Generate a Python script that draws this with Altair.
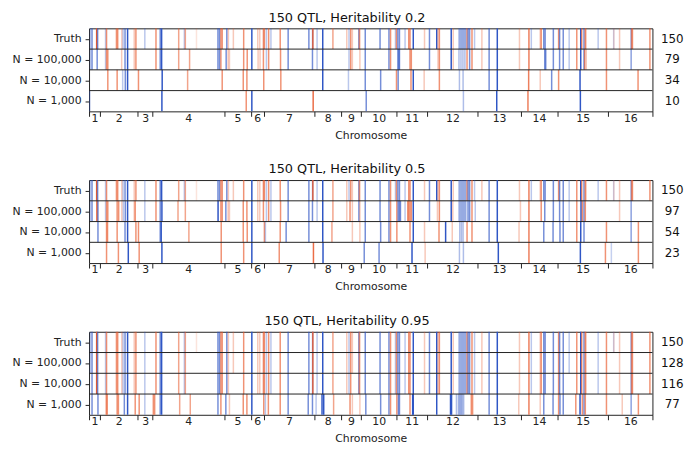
import altair as alt
import pandas as pd

FONT = "DejaVu Sans"
RED = "#e8592c"
BLUE = "#2d54c4"
W, H = 570, 84

# S. cerevisiae chromosome lengths (kb)
chrom_len_kb = [230, 813, 317, 1532, 577, 270, 1091, 563, 440, 746, 667, 1078, 924, 784, 1091, 948]

titles = ["150 QTL, Heritability 0.2", "150 QTL, Heritability 0.5", "150 QTL, Heritability 0.95"]
row_names = ["Truth", "N = 100,000", "N = 10,000", "N = 1,000"]
counts = [[150, 79, 34, 10], [150, 97, 54, 23], [150, 128, 116, 77]]

# true QTL: genome position (kb) and signed effect (+ red, - blue; magnitude -> intensity)
truth_pos = [30, 64, 163, 184, 354, 375, 587, 614, 703, 729, 771, 826, 968, 1004, 1195, 1434, 1525, 1555,
             1921, 2042, 2063, 2302, 2762, 2796, 2825, 2853, 2952, 2986, 3092, 3313, 3488, 3615, 3658,
             3736, 3757, 3800, 3848, 3897, 4096, 4266, 4710, 4790, 4795, 4886, 5007, 5225, 5522, 5570,
             5606, 5642, 5782, 5790, 5803, 5918, 6235, 6426, 6460, 6566, 6587, 6617, 6651, 6771, 6850,
             6877, 6947, 7188, 7294, 7449, 7477, 7506, 7760, 7803, 7926, 7947, 7969, 7990, 8011, 8032,
             8053, 8074, 8099, 8122, 8154, 8205, 8260, 8417, 8572, 8747, 9222, 9425, 9476, 9667, 9688,
             9743, 9772, 9948, 10061, 10082, 10160, 10287, 10450, 10535, 10556, 10605, 10633, 10648,
             10908, 11086, 11240, 11245, 11367, 11615, 11625, 11643, 12017]
truth_eff = [-0.3, -0.6, 0.9, -0.6, -0.3, 0.6, 0.6, 0.6, 0.3, -0.3, -0.6, -0.9, 0.3, 0.6, -0.3, 0.6, -0.6, -0.9,
             0.5, -0.3, 0.5, 0.15, -0.6, -0.6, 0.6, 0.6, -0.6, 0.3, 0.3, 0.6, -0.9, 0.3, 0.3,
             0.6, 0.6, -0.3, 0.6, -0.3, 0.6, -0.6, -0.6, -0.6, 0.8, -0.3, -0.9, 0.5, 0.3, -0.3,
             0.6, 0.3, -0.6, 0.4, 0.3, -0.6, -0.6, -0.6, 0.6, -0.3, 0.6, -0.6, -0.6, -0.3, 0.6,
             0.6, -0.9, 0.3, -0.6, -0.9, 0.3, 0.6, -0.9, 0.3, -0.35, -0.35, -0.35, -0.35, -0.35, -0.35,
             -0.35, -0.35, 0.6, -0.6, -0.6, 0.6, -0.3, 0.3, -0.6, -0.9, 0.3, 0.7, -0.3, 0.3, 0.6,
             -0.6, -0.6, -0.6, 0.6, -0.6, -0.6, -0.3, 0.6, -0.9, 0.6, -0.6, 0.6, 0.3,
             -0.3, 0.6, -0.25, 0.2, 0.3, -0.5, 0.5, 0.6, 0.6]

# detected QTL positions (kb) per panel and sample size
h02_n100k = [30, 64, 174, 354, 375, 402, 699, 771, 826, 968, 1004, 1434, 1525, 1555, 1921, 2154, 2762, 2796,
             2825, 2938, 2980, 3008, 3313, 3389, 3488, 3622, 3664, 3736, 3800, 3848, 4103, 4266, 4787, 4886,
             5007, 5570, 5606, 5642, 5803, 5918, 6426, 6460, 6617, 6638, 6651, 6877, 6905, 7294, 7477, 7506,
             7760, 7803, 7926, 7969, 8011, 8053, 8099, 8154, 8205, 8417, 8572, 8747, 9222, 9425, 9764, 9785,
             9948, 10082, 10160, 10287, 10450, 10535, 10605, 10620, 10653, 11086, 11367, 11615, 12017]
h02_n10k = [402, 602, 720, 777, 826, 1059, 1567, 2112, 2853, 3304, 3382, 3743, 4109, 5007, 5558, 5918, 6248,
            6587, 6623, 6898, 6947, 7180, 7506, 7936, 8014, 8572, 8747, 9419, 9667, 9912, 10061, 10520,
            11086, 11763]
h02_n1k = [15, 1561, 3368, 3488, 4802, 5939, 8021, 8735, 9404, 10527]

h05_n100k = [30, 64, 169, 191, 354, 375, 402, 602, 635, 703, 735, 777, 826, 968, 989, 1195, 1434, 1525, 1561,
             1906, 2063, 2762, 2768, 2825, 2853, 2931, 2980, 3008, 3304, 3382, 3488, 3615, 3658, 3736, 3800,
             3848, 3897, 4103, 4266, 4710, 4787, 4886, 5007, 5225, 5522, 5592, 5642, 5782, 5803, 5918, 6235,
             6426, 6460, 6595, 6623, 6651, 6672, 6771, 6828, 6850, 6877, 6905, 6947, 7294, 7464, 7506, 7760,
             7794, 7926, 7947, 7969, 7990, 8011, 8032, 8053, 8074, 8120, 8154, 8205, 8275, 8572, 8747, 9243,
             9425, 9688, 9764, 9948, 10082, 10160, 10287, 10450, 10541, 10569, 10605, 10633, 11367, 11615]
h05_n10k = [191, 375, 396, 602, 771, 826, 1004, 1059, 1525, 1546, 2139, 2832, 3304, 3389, 3488, 3757, 3779,
            4096, 4223, 4710, 5007, 5204, 5642, 5803, 5918, 6248, 6426, 6460, 6595, 6877, 6947, 7188, 7498,
            7640, 7782, 7943, 7979, 8014, 8099, 8205, 8572, 8747, 9213, 9425, 9743, 9942, 10090, 10160,
            10450, 10535, 10605, 11086, 11615, 11770]
h05_n1k = [375, 629, 841, 1074, 1561, 2832, 3313, 3488, 4075, 4808, 5013, 5896, 6214, 6920, 7201, 7936, 8021,
           8769, 9425, 10527, 11064, 11191, 11770]

h095_missed_n100k = [2302, 11240, 11245]
h095_missed_n10k = [2302, 11240, 11245, 30, 5642, 10287, 3092]
h095_n1k = [64, 191, 369, 390, 602, 629, 756, 826, 989, 1074, 1195, 1377, 1406, 1525, 1555, 1942, 2169, 2762,
            2825, 2931, 3008, 3304, 3382, 3488, 3743, 3779, 3842, 4096, 4266, 4696, 4787, 4865, 4992, 5028,
            5240, 5592, 5642, 5803, 5930, 6248, 6426, 6460, 6595, 6629, 6651, 6877, 6934, 6947, 7449, 7745,
            7767, 7872, 7915, 7936, 7958, 7979, 8000, 8027, 8190, 8218, 8572, 8747, 9207, 9425, 9667, 9743,
            9942, 10061, 10090, 10160, 10429, 10520, 10569, 10605, 10633, 11086, 11424, 11615, 11770]

h095_n100k = [p for p in truth_pos if p not in h095_missed_n100k]
h095_n10k = [p for p in truth_pos if p not in h095_missed_n10k]

panel_rows = [
    [truth_pos, h02_n100k, h02_n10k, h02_n1k],
    [truth_pos, h05_n100k, h05_n10k, h05_n1k],
    [truth_pos, h095_n100k, h095_n10k, h095_n1k],
]

# chromosome boundaries and midpoints on the concatenated genome axis
bounds = [0]
for L in chrom_len_kb:
    bounds.append(bounds[-1] + L)
TOTAL = bounds[-1]
mids = [(bounds[i] + bounds[i + 1]) / 2 for i in range(len(chrom_len_kb))]
bounds_js = "[" + ",".join(str(b) for b in bounds) + "]"
mids_js = "[" + ",".join(str(m) for m in mids) + "]"


def nearest_eff(p):
    i = min(range(len(truth_pos)), key=lambda k: abs(truth_pos[k] - p))
    return truth_eff[i]


row_expr = ("datum.value < 1 ? '%s' : datum.value < 2 ? '%s' : datum.value < 3 ? '%s' : '%s'"
            % tuple(row_names))


def make_panel(idx):
    recs = []
    for r, plist in enumerate(panel_rows[idx]):
        for j, p in enumerate(plist):
            e = truth_eff[j] if r == 0 else nearest_eff(p)
            recs.append({"pos": p, "r": r, "r2": r + 1, "sign": "pos" if e > 0 else "neg",
                         "a": min(1.0, abs(e) * 1.1)})
    df = pd.DataFrame(recs)

    xaxis = alt.Axis(
        values=bounds + mids,
        labelExpr="indexof(%s, datum.value) >= 0 ? '' + (indexof(%s, datum.value) + 1) : ''" % (mids_js, mids_js),
        title="Chromosome", grid=False, domain=False, tickSize=5, tickColor="#222",
        tickOpacity={"condition": {"test": "indexof(%s, datum.value) >= 0" % bounds_js, "value": 1}, "value": 0},
        labelOverlap=False, labelFlush=False, labelBound=False, labelPadding=-4,
        labelFont=FONT, labelFontSize=11, labelColor="#222",
        titleFont=FONT, titleFontSize=11, titleFontWeight="normal", titleColor="#222", titlePadding=6,
    )
    yaxis = alt.Axis(
        values=[0.5, 1.5, 2.5, 3.5], labelExpr=row_expr, title=None, grid=False, domain=False,
        labelOverlap=False, labelBound=False, labelFlush=False, orient="left",
        tickSize=4, tickColor="#222", labelPadding=4, labelFont=FONT, labelFontSize=11, labelColor="#222",
    )
    lines = alt.Chart(df).mark_rule(strokeWidth=1.5).encode(
        x=alt.X("pos:Q", scale=alt.Scale(domain=[0, TOTAL], nice=False, zero=False), axis=xaxis),
        y=alt.Y("r:Q", scale=alt.Scale(domain=[0, 4], reverse=True, nice=False, zero=False), axis=yaxis),
        y2="r2:Q",
        color=alt.Color("sign:N", scale=alt.Scale(domain=["pos", "neg"], range=[RED, BLUE]), legend=None),
        opacity=alt.Opacity("a:Q", scale=None),
    )
    seps = alt.Chart(pd.DataFrame({"sep": [1, 2, 3]})).mark_rule(color="#222", strokeWidth=1).encode(
        y=alt.Y("sep:Q", axis=None)
    )
    cnt = alt.Chart(pd.DataFrame({"c": counts[idx], "yc": [0.5, 1.5, 2.5, 3.5]})).mark_text(
        font=FONT, fontSize=12, align="center", baseline="middle", color="#111"
    ).encode(x=alt.value(W + 20), y=alt.Y("yc:Q", axis=None), text="c:N")
    return alt.layer(lines, seps, cnt).resolve_axis(y="independent").properties(
        width=W, height=H,
        title=alt.Title(titles[idx], font=FONT, fontSize=13, fontWeight="normal", color="#111",
                        offset=3, dx=-24),
    )


chart = alt.vconcat(*[make_panel(i) for i in range(3)], spacing=21.5).properties(
    padding={"left": 3, "top": 0, "right": 5, "bottom": 0}
).configure_view(stroke="#222", strokeWidth=1)

chart.save("out.html", embed_options={"renderer": "svg", "actions": False})
